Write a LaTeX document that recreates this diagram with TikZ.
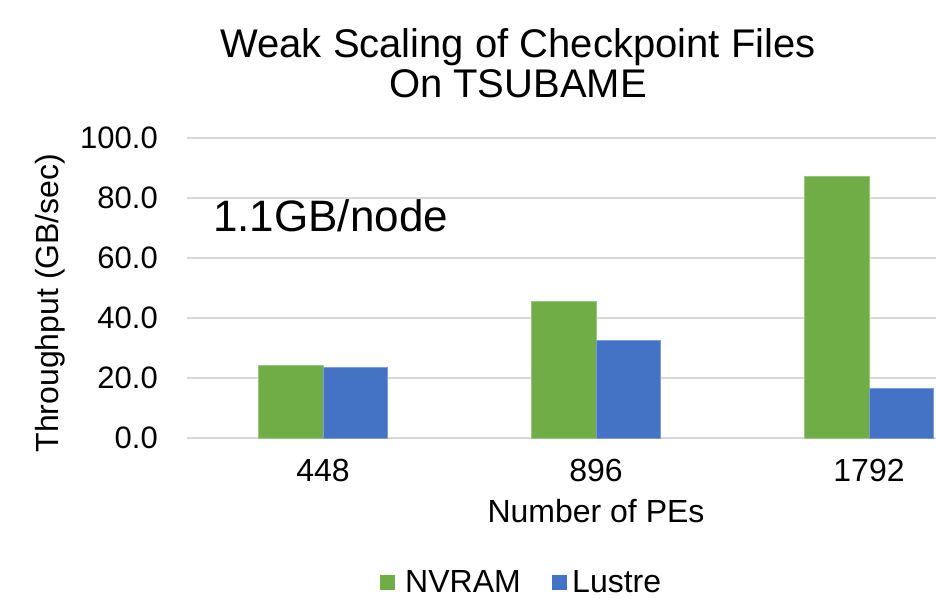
\documentclass[tikz,border=0pt]{standalone}
\usepackage{fontspec}
\setmainfont{Liberation Sans}
\definecolor{nvramgreen}{HTML}{70AD47}
\definecolor{lustreblue}{HTML}{4472C4}
\definecolor{gridgray}{HTML}{D9D9D9}
\begin{document}
\begin{tikzpicture}[x=1pt,y=-1pt,
  txt/.style={inner sep=0pt,font=\fontsize{32}{38}\selectfont},
  ytick/.style={inner sep=0pt,anchor=east,font=\fontsize{31}{36}\selectfont},
  titletxt/.style={inner sep=0pt,anchor=base,font=\fontsize{40}{46}\selectfont},
  gridline/.style={draw=gridgray,line width=1.6pt},
  nvram/.style={fill=nvramgreen,draw=nvramgreen!70!white,line width=0.6pt},
  lustre/.style={fill=lustreblue,draw=lustreblue!70!white,line width=0.6pt}]
\fill[white] (0,0) rectangle (936,598);
\useasboundingbox (0,0) rectangle (936,598);
% title
\node[titletxt] (t1) at (518,57) {Weak Scaling of Checkpoint Files};
\node[titletxt] (t2) at (518,97) {On TSUBAME};
% grid and y ticks
\foreach \v/\lab in {0/0.0,20/20.0,40/40.0,60/60.0,80/80.0,100/100.0}{
  \draw[gridline] (187,438-3*\v) -- (936,438-3*\v);
  \node[ytick] (y\v) at (158,438-3*\v) {\lab};
}
% bars
\foreach \c/\g/\b in {323/24.3/23.7,596/45.7/32.7,869/87.3/16.7}{
  \path[nvram] (\c-64.5,438) rectangle (\c,438-3*\g);
  \path[lustre] (\c,438) rectangle (\c+64.5,438-3*\b);
}
% x tick labels
\node[txt,anchor=base] (x1) at (323,481) {448};
\node[txt,anchor=base] (x2) at (596,481) {896};
\node[txt,anchor=base] (x3) at (869,481) {1792};
\node[txt,anchor=base] (xl) at (596,522) {Number of PEs};
% y label
\node[txt,rotate=90] (yl) at (50,303) {Throughput (GB/sec)};
% annotation
\node[inner sep=0pt,anchor=base west,font=\fontsize{44}{50}\selectfont] (ann) at (213,231) {1.1GB/node};
% legend
\fill[nvramgreen] (380,575) rectangle (395,590);
\node[txt,anchor=base west] (l1) at (405,592) {NVRAM};
\fill[lustreblue] (552,575) rectangle (567,590);
\node[txt,anchor=base west] (l2) at (572,592) {Lustre};
\end{tikzpicture}
\end{document}
